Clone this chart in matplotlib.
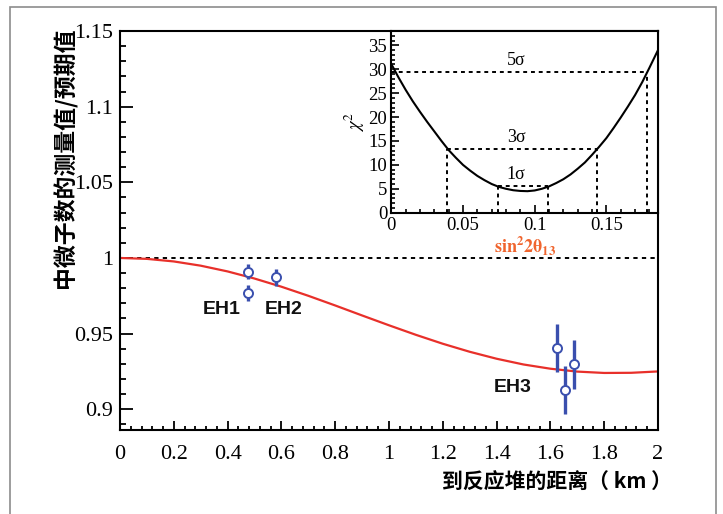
import matplotlib
matplotlib.use("Agg")
import matplotlib.pyplot as plt
from matplotlib.patches import Rectangle
from matplotlib.ticker import MultipleLocator, FuncFormatter

plt.rcParams['mathtext.fontset'] = 'stix'

# ---------------- data ----------------
# main panel: expected survival curve
curve_L = [0.0, 0.1, 0.2, 0.3, 0.4, 0.5, 0.6, 0.7, 0.8, 0.9, 1.0,
           1.1, 1.2, 1.3, 1.4, 1.5, 1.6, 1.7, 1.8, 1.9, 2.0]
curve_R = [1.000, 0.9994, 0.9977, 0.9949, 0.9911, 0.9864, 0.9810, 0.9750, 0.9686, 0.9620, 0.9555,
           0.9492, 0.9433, 0.9380, 0.9334, 0.9296, 0.9268, 0.9249, 0.9240, 0.9241, 0.9250]

# measured ratios per detector
det_L = [0.477, 0.477, 0.580, 1.623, 1.654, 1.688]
det_R = [0.9908, 0.9769, 0.9871, 0.9405, 0.9126, 0.9296]
det_err = [0.005, 0.0055, 0.0055, 0.016, 0.016, 0.0163]

hall_names = ["EH1", "EH2", "EH3"]
hall_x = [0.378, 0.608, 1.46]
hall_y = [0.9661, 0.9661, 0.9143]

# inset: chi2 vs sin^2 2theta13
chi_x = [0.000, 0.005, 0.010, 0.015, 0.020, 0.025, 0.030, 0.035, 0.040, 0.045,
         0.050, 0.055, 0.060, 0.065, 0.070, 0.075, 0.080, 0.085, 0.090, 0.095,
         0.100, 0.105, 0.110, 0.115, 0.120, 0.125, 0.130, 0.135, 0.140, 0.145,
         0.150, 0.155, 0.160, 0.165, 0.170, 0.175, 0.180, 0.186]
chi_y = [31.1, 28.3, 25.7, 23.3, 21.1, 19.0, 17.0, 15.0, 13.1, 11.5,
         10.0, 8.8, 7.7, 6.8, 6.0, 5.4, 5.0, 4.7, 4.55, 4.5,
         4.65, 5.0, 5.5, 6.2, 7.0, 8.0, 9.2, 10.5, 12.1, 13.8,
         15.6, 17.7, 19.9, 22.2, 24.6, 27.3, 30.3, 34.0]

sigma_labels = ["1σ", "3σ", "5σ"]
sigma_level = [5.5, 13.4, 29.5]
sigma_lo = [0.0746, 0.0389, 0.0]
sigma_hi = [0.1095, 0.1438, 0.178]
sigma_text_y = [7.9, 15.7, 31.8]

# ---------------- figure ----------------
fig = plt.figure(figsize=(7.23, 5.14), dpi=100)
fig.patch.set_facecolor('white')

fig.add_artist(Rectangle((10/723, -0.02), (716-10)/723, (1-7/514)+0.02,
                         transform=fig.transFigure, fill=False,
                         edgecolor='#8c8c8c', lw=1.2))

ax = fig.add_axes([120/723, 1-430/514, (658-120)/723, (430-31)/514])
ins = fig.add_axes([391.3/723, 1-212.7/514, (658-391.3)/723, (212.7-31)/514])

serif = 'Liberation Serif'
blue = '#3a4fae'
red = '#e8302a'

# main
ax.axhline(1.0, color='black', lw=1.4, ls=(0, (2.2, 2.2)), zorder=1)
ax.plot(curve_L, curve_R, color=red, lw=1.6, zorder=2)
ax.errorbar(det_L, det_R, yerr=det_err, fmt='o', mfc='white', mec=blue,
            ecolor=blue, elinewidth=2.4, ms=6.5, mew=1.4, capsize=0, zorder=5)
for n, x, y in zip(hall_names, hall_x, hall_y):
    ax.text(x, y, n, ha='center', va='center', fontsize=14, fontweight='bold',
            family='Liberation Sans', color='#111111')

ax.set_xlim(0, 2)
ax.set_ylim(0.8863, 1.15)
ax.xaxis.set_major_locator(MultipleLocator(0.2))
ax.xaxis.set_minor_locator(MultipleLocator(0.04))
ax.yaxis.set_major_locator(MultipleLocator(0.05))
ax.yaxis.set_minor_locator(MultipleLocator(0.01))
fmt = FuncFormatter(lambda v, p: ('%.2f' % v).rstrip('0').rstrip('.'))
ax.xaxis.set_major_formatter(fmt)
ax.yaxis.set_major_formatter(fmt)
ax.tick_params(axis='both', which='both', direction='in', top=False, right=False,
               width=1.3, color='black')
ax.tick_params(axis='y', which='major', length=9, pad=5)
ax.tick_params(axis='y', which='minor', length=4.5)
ax.tick_params(axis='x', which='major', length=6.5, pad=11)
ax.tick_params(axis='x', which='minor', length=3.2)
for lab in ax.get_xticklabels() + ax.get_yticklabels():
    lab.set_fontfamily(serif)
    lab.set_fontsize(16)
for s in ax.spines.values():
    s.set_linewidth(1.5)

fig.text(65/723, 1-158/514, "中微子数的测量值/预期值", rotation=90, ha='center', va='center',
         fontsize=16.5, fontweight='bold', family=['Noto Sans CJK SC', 'DejaVu Sans'])
fig.text(672/723, 1-482/514, "到反应堆的距离（ km ）", ha='right', va='center',
         fontsize=15, fontweight='bold', family=['Noto Sans CJK SC', 'DejaVu Sans'])

# inset
ins.set_facecolor('white')
dot = (0, (2.0, 2.0))
for lv, lo, hi in zip(sigma_level, sigma_lo, sigma_hi):
    ins.plot([lo, hi], [lv, lv], color='black', lw=1.4, ls=dot)
    ins.plot([lo, lo], [0, lv], color='black', lw=1.4, ls=dot)
    ins.plot([hi, hi], [0, lv], color='black', lw=1.4, ls=dot)
ins.plot(chi_x, chi_y, color='black', lw=1.5)
for t, y in zip(sigma_labels, sigma_text_y):
    ins.text(0.087, y, t, ha='center', va='center', fontsize=13, family=serif)

ins.set_xlim(0, 0.186)
ins.set_ylim(0, 38)
ins.xaxis.set_major_locator(MultipleLocator(0.05))
ins.xaxis.set_minor_locator(MultipleLocator(0.01))
ins.yaxis.set_major_locator(MultipleLocator(5))
ins.yaxis.set_minor_locator(MultipleLocator(1))
ins.xaxis.set_major_formatter(fmt)
ins.yaxis.set_major_formatter(FuncFormatter(lambda v, p: '%d' % v))
ins.tick_params(axis='both', which='both', direction='in', top=False, right=False,
                width=1.2, color='black')
ins.tick_params(axis='both', which='major', length=6, pad=3)
ins.tick_params(axis='both', which='minor', length=3)
for lab in ins.get_xticklabels() + ins.get_yticklabels():
    lab.set_fontfamily(serif)
    lab.set_fontsize(13.5)
for s in ins.spines.values():
    s.set_linewidth(1.5)
ins.set_ylabel(r'$\chi^2$', fontsize=13.5, labelpad=1)
ins.set_xlabel(r'$\mathbf{sin^22\theta_{13}}$', fontsize=13, color='#f0642d', labelpad=0)

fig.savefig('out.png', dpi=100, facecolor='white')
